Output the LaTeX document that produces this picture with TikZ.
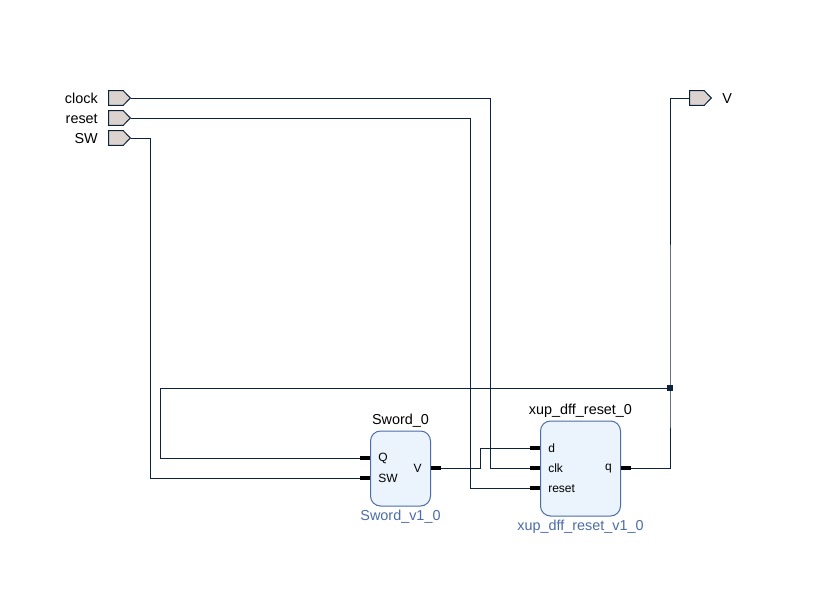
\documentclass[tikz,border=0pt]{standalone}
\usepackage{fontspec}
\setmainfont{Liberation Sans}
\usetikzlibrary{positioning,shapes.symbols}

\definecolor{wirecol}{HTML}{0C2340}
\definecolor{portcol}{HTML}{DDD3CE}
\definecolor{blockcol}{HTML}{EBF3FC}
\definecolor{edgecol}{HTML}{4A6CA8}

\tikzset{
  wire/.style={draw=wirecol,line width=0.75pt},
  stub/.style={draw=black,line width=2.4pt},
  port/.style={signal,signal to=east,signal pointer angle=92,draw=wirecol,fill=portcol,
    line width=0.75pt,inner sep=0pt,minimum width=16.2pt,minimum height=11pt,anchor=east},
  portname/.style={font=\fontsize{10.8}{12}\selectfont,inner sep=0pt},
  block/.style={draw=edgecol,fill=blockcol,line width=0.75pt,rounded corners=7.5pt,inner sep=0pt},
  blockname/.style={font=\fontsize{10.8}{12}\selectfont,inner sep=0pt},
  coretype/.style={font=\fontsize{10.8}{12}\selectfont,text=edgecol,inner sep=0pt},
  pinname/.style={font=\fontsize{9}{11}\selectfont,inner sep=0pt},
  junction/.style={fill=wirecol,inner sep=0pt,minimum size=3.8pt}
}

\begin{document}
\begin{tikzpicture}[x=0.75pt,y=-0.75pt]
\useasboundingbox (0,0) rectangle (824,611);

\node[port] (clock) at (131,98) {};
\node[port] (reset) at (131,118) {};
\node[port] (SW) at (131,138) {};
\node[port] (V) at (712,98) {};
\node[portname,anchor=east] (clockname) at (98,98.5) {clock};
\node[portname,anchor=east] (resetname) at (98,118.5) {reset};
\node[portname,anchor=east] (SWname) at (98,138.5) {SW};
\node[portname,anchor=west] (Vname) at (722,98.5) {V};

\node[block,minimum width=45pt,minimum height=56.25pt] (Sword) at (400.5,468.5) {};
\node[blockname,above=2.2pt of Sword] (Swordname) {Sword\_0};
\node[coretype,below=2.6pt of Sword] (Swordcore) {Sword\_v1\_0};
\node[block,minimum width=60pt,minimum height=71.25pt] (dff) at (580.5,468.5) {};
\node[blockname,above=2.2pt of dff] (dffname) {xup\_dff\_reset\_0};
\node[coretype,below=2.6pt of dff] (dffcore) {xup\_dff\_reset\_v1\_0};

% pin stubs
\coordinate (Qin) at (360,458);
\coordinate (Qpin) at (370,458);
\coordinate (SWin) at (360,478);
\coordinate (SWpin) at (370,478);
\coordinate (Vpin) at (431,468);
\coordinate (Vout) at (441,468);
\coordinate (din) at (530,448);
\coordinate (dpin) at (540,448);
\coordinate (clkin) at (530,468);
\coordinate (clkpin) at (540,468);
\coordinate (rstin) at (530,488);
\coordinate (rstpin) at (540,488);
\coordinate (qpin) at (621,468);
\coordinate (qout) at (631,468);
\draw[stub] (Qin) -- (Qpin);
\draw[stub] (SWin) -- (SWpin);
\draw[stub] (Vpin) -- (Vout);
\draw[stub] (din) -- (dpin);
\draw[stub] (clkin) -- (clkpin);
\draw[stub] (rstin) -- (rstpin);
\draw[stub] (qpin) -- (qout);

\node[pinname,anchor=west] (Qname) at (378,458.5) {Q};
\node[pinname,anchor=west] (SWpinname) at (378,478.5) {SW};
\node[pinname,anchor=east] (Vpinname) at (422,468.5) {V};
\node[pinname,anchor=west] (dname) at (548,448.5) {d};
\node[pinname,anchor=west] (clkname) at (548,468.5) {clk};
\node[pinname,anchor=west] (rstname) at (548,488.5) {reset};
\node[pinname,anchor=east] (qname) at (612,468.5) {q};

\node[junction] (tap) at (670,388) {};

\draw[wire] (clock.east) -- (490,98) |- (clkin);
\draw[wire] (reset.east) -- (470,118) |- (rstin);
\draw[wire] (SW.east) -- (150,138) |- (SWin);
\draw[wire] (Vout) -- (480,468) |- (din);
\draw[wire] (qout) -| (tap.center) -- (670,98) -- (V.west);
\draw[wire] (tap.center) -- (160,388) |- (Qin);
\end{tikzpicture}
\end{document}
